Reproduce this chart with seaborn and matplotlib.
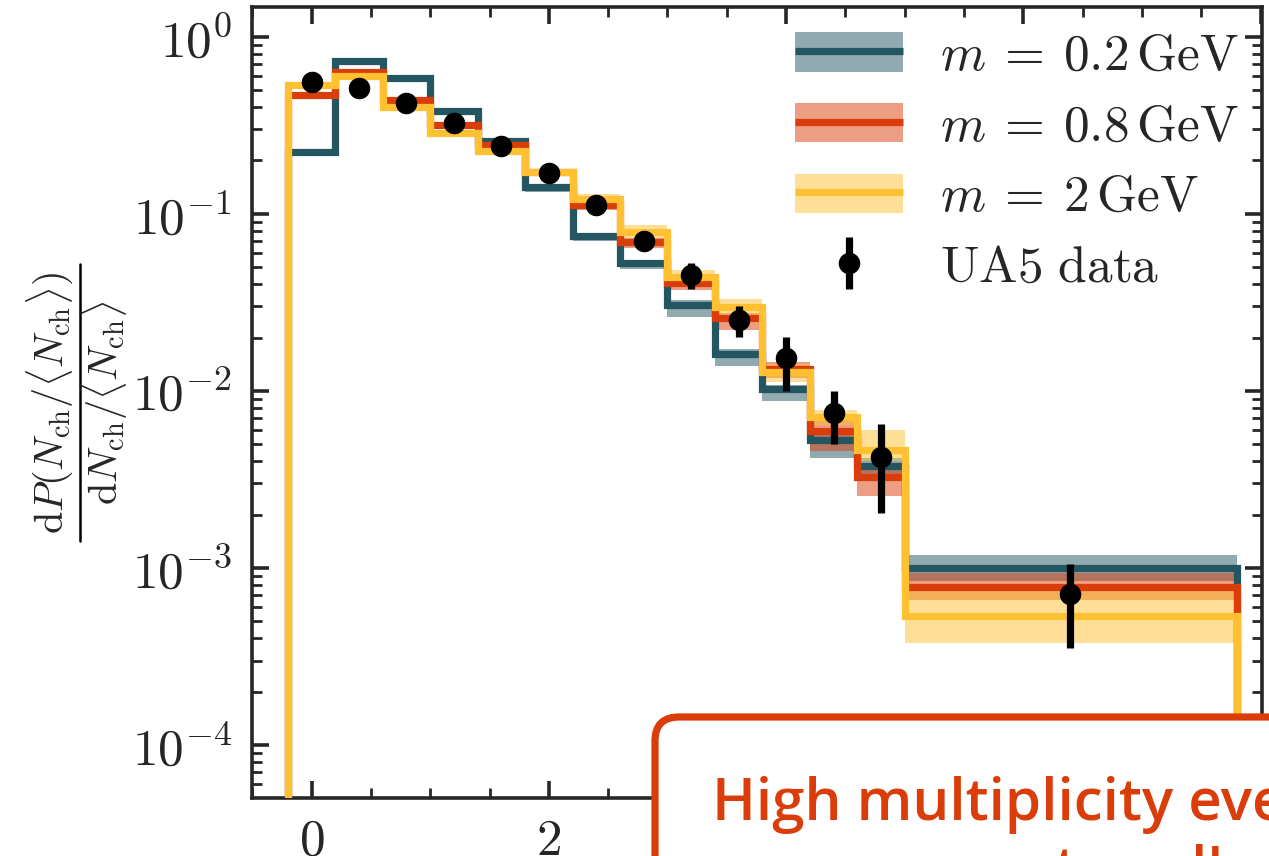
import numpy as np
import pandas as pd
import matplotlib
matplotlib.use("Agg")
import matplotlib.pyplot as plt
import seaborn as sns
from matplotlib.patches import Patch, FancyBboxPatch
from matplotlib.lines import Line2D
from matplotlib.ticker import MultipleLocator, LogLocator, NullFormatter
from matplotlib.transforms import IdentityTransform

# ---------------- data ----------------
bin_edges = [-0.2, 0.2, 0.6, 1.0, 1.4, 1.8, 2.2, 2.6, 3.0, 3.4, 3.8, 4.2, 4.6, 5.0, 7.8]

m02_val = [0.222, 0.732, 0.582, 0.380, 0.259, 0.142, 0.075, 0.0525, 0.0305, 0.0162, 0.0102, 0.00528, 0.00377, 0.000996]
m02_lo = [0.215, 0.71, 0.565, 0.368, 0.25, 0.133, 0.070, 0.049, 0.0261, 0.0139, 0.0088, 0.00418, 0.0033, 0.00084]
m02_hi = [0.228, 0.75, 0.595, 0.39, 0.265, 0.146, 0.077, 0.054, 0.0325, 0.0172, 0.0108, 0.0058, 0.0042, 0.00118]

m08_val = [0.469, 0.634, 0.439, 0.317, 0.245, 0.172, 0.112, 0.0695, 0.0405, 0.0257, 0.0133, 0.00596, 0.00325, 0.000785]
m08_lo = [0.455, 0.615, 0.425, 0.305, 0.235, 0.165, 0.105, 0.064, 0.037, 0.022, 0.0118, 0.0046, 0.00254, 0.000659]
m08_hi = [0.48, 0.65, 0.45, 0.325, 0.252, 0.18, 0.117, 0.073, 0.043, 0.0275, 0.0145, 0.0068, 0.0037, 0.000937]

m2_val = [0.533, 0.600, 0.403, 0.285, 0.227, 0.173, 0.121, 0.0792, 0.0441, 0.0297, 0.0127, 0.00715, 0.00464, 0.000536]
m2_lo = [0.52, 0.585, 0.39, 0.275, 0.22, 0.165, 0.113, 0.073, 0.040, 0.026, 0.0112, 0.0064, 0.0040, 0.000376]
m2_hi = [0.545, 0.615, 0.415, 0.295, 0.235, 0.18, 0.130, 0.086, 0.048, 0.033, 0.0142, 0.0078, 0.0060, 0.00074]

ua5_x = [0.0, 0.4, 0.8, 1.2, 1.6, 2.0, 2.4, 2.8, 3.2, 3.6, 4.0, 4.4, 4.8, 6.39]
ua5_y = [0.557, 0.511, 0.424, 0.324, 0.241, 0.171, 0.112, 0.0702, 0.0451, 0.0251, 0.0153, 0.00753, 0.00425, 0.000713]
ua5_lo = [0.545, 0.50, 0.415, 0.316, 0.234, 0.164, 0.106, 0.0655, 0.0375, 0.0201, 0.0100, 0.00500, 0.00203, 0.000353]
ua5_hi = [0.569, 0.522, 0.433, 0.332, 0.248, 0.178, 0.118, 0.0750, 0.0529, 0.0302, 0.0201, 0.0100, 0.00654, 0.00105]

labels = [r"$m\:=\:0.2\,\mathrm{GeV}$", r"$m\:=\:0.8\,\mathrm{GeV}$", r"$m\:=\:2\,\mathrm{GeV}$"]
colors = ["#235660", "#db3d0a", "#ffc132"]
data_label = r"$\mathrm{UA5\ data}$"
ylabel_num = r"$\mathrm{d}P(N_\mathrm{ch}/\langle N_\mathrm{ch}\rangle)$"
ylabel_den = r"$\mathrm{d}N_\mathrm{ch}/\langle N_\mathrm{ch}\rangle$"
box_lines = ["High multiplicity events", "are restored!"]

# ---------------- style ----------------
sns.set_theme(style="ticks")
plt.rcParams.update({
    "font.family": ["serif"],
    "font.serif": ["cmr10", "DejaVu Serif"],
    "mathtext.fontset": "cm",
    "axes.formatter.use_mathtext": True,
    "axes.linewidth": 2.6,
    "xtick.direction": "in", "ytick.direction": "in",
    "xtick.top": True, "ytick.right": True,
    "xtick.major.size": 12.5, "ytick.major.size": 12.5,
    "xtick.minor.size": 7, "ytick.minor.size": 7,
    "xtick.major.width": 2.6, "ytick.major.width": 2.6,
    "xtick.minor.width": 2.0, "ytick.minor.width": 2.0,
    "xtick.major.pad": 15, "ytick.major.pad": 14,
    "xtick.labelsize": 37, "ytick.labelsize": 37,
})

W, H = 1269, 856
fig = plt.figure(figsize=(W / 100, H / 100), dpi=100)
L, R, T, B = 251.7, 1262, 6.7, 798
ax = fig.add_axes([L / W, 1 - B / H, (R - L) / W, (B - T) / H])
ax.set_yscale("log")

edges = np.array(bin_edges)
tiny = 1e-7

# bands
for lo, hi, c in zip([m02_lo, m08_lo, m2_lo], [m02_hi, m08_hi, m2_hi], colors):
    ax.stairs(hi, edges, baseline=lo, fill=True, color=c, alpha=0.5, lw=0, zorder=2)

# step lines via seaborn
for vals, c in zip([m02_val, m08_val, m2_val], colors):
    xs = np.concatenate([[edges[0]], edges, [edges[-1]]])
    ys = np.concatenate([[tiny], vals, [vals[-1]], [tiny]])
    df = pd.DataFrame({"x": xs, "y": ys})
    sns.lineplot(data=df, x="x", y="y", ax=ax, color=c, lw=5.2, sort=False,
                 estimator=None, drawstyle="steps-post", zorder=3,
                 solid_joinstyle="miter", solid_capstyle="butt")

# data
yv = np.array(ua5_y)
yerr = np.vstack([yv - np.array(ua5_lo), np.array(ua5_hi) - yv])
eb = ax.errorbar(ua5_x, yv, yerr=yerr, fmt="o", color="black", ms=14.5,
                 elinewidth=5.2, capsize=0, zorder=5)

ax.set_xlim(-0.504, 8.01)
ax.set_ylim(5.02e-5, 1.477)
ax.xaxis.set_major_locator(MultipleLocator(2))
ax.xaxis.set_minor_locator(MultipleLocator(0.5))
ax.yaxis.set_major_locator(LogLocator(base=10, numticks=20))
ax.yaxis.set_minor_locator(LogLocator(base=10, subs=np.arange(2, 10), numticks=50))
ax.yaxis.set_minor_formatter(NullFormatter())
ax.set_xlabel("")
ax.set_ylabel("")

# y label as a stacked fraction (numerator, bar, denominator)
yc = 1 - 403 / H
fig.text(50 / W, yc, ylabel_num, rotation=90, ha="center", va="center", fontsize=29)
fig.text(104 / W, yc, ylabel_den, rotation=90, ha="center", va="center", fontsize=29)
fig.add_artist(Line2D([80, 80], [H - 541, H - 264], color="black", lw=1.8,
                      transform=IdentityTransform()))

handles = []
for c in colors:
    handles.append((Patch(facecolor=c, alpha=0.5, lw=0),
                    Line2D([], [], color=c, lw=5.2, solid_capstyle="butt")))
handles.append(eb)
leg = ax.legend(handles, labels + [data_label], loc="upper right",
                bbox_to_anchor=(1.003, 1.0), frameon=False, fontsize=37,
                handlelength=2.12, handleheight=0.8, handletextpad=0.72,
                labelspacing=0.45, borderaxespad=0.2, borderpad=0.3)

# annotation box
box = FancyBboxPatch((655, -120), 900, H - 717 + 120,
                     boxstyle="round,pad=0,rounding_size=24",
                     transform=IdentityTransform(), facecolor="white",
                     edgecolor="#db3d0a", lw=5.2, zorder=10, clip_on=False)
fig.add_artist(box)
for i, line in enumerate(box_lines):
    fig.text(1043 / W, 1 - (820 + 68 * i) / H, line, ha="center", va="baseline",
             fontsize=42, color="#db3d0a", family="Open Sans", weight="semibold",
             zorder=11)

fig.savefig("out.png", dpi=100)
